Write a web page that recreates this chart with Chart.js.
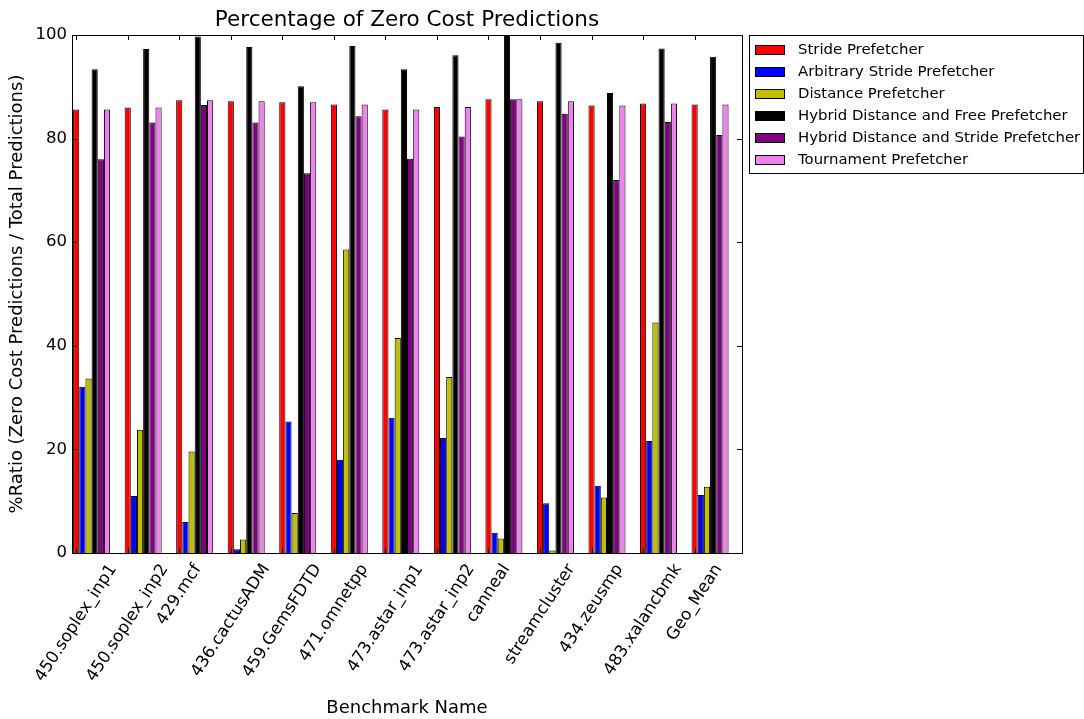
<!DOCTYPE html>
<html>
<head>
<meta charset="utf-8">
<title>Percentage of Zero Cost Predictions</title>
<script src="https://cdn.jsdelivr.net/npm/chart.js@4.4.1/dist/chart.umd.min.js"></script>
<style>
  html, body { margin: 0; padding: 0; background: #ffffff; }
  #wrap { width: 1084px; height: 719px; }
</style>
</head>
<body>
<div id="wrap"><canvas id="chart" width="1084" height="719"></canvas></div>
<script>
// Benchmarks on the x axis
const benchmarks = [
  '450.soplex_inp1', '450.soplex_inp2', '429.mcf', '436.cactusADM',
  '459.GemsFDTD', '471.omnetpp', '473.astar_inp1', '473.astar_inp2',
  'canneal', 'streamcluster', '434.zeusmp', '483.xalancbmk', 'Geo_Mean'
];

// Zero cost prediction ratio (%) per prefetcher
const stridePrefetcher        = [85.6, 86.0, 87.4, 87.2, 87.0, 86.6, 85.6, 86.1, 87.6, 87.2, 86.4, 86.8, 86.6];
const arbitraryStride         = [32.1, 11.0, 6.0, 0.7, 25.4, 18.0, 26.1, 22.2, 3.9, 9.6, 13.0, 21.6, 11.2];
const distancePrefetcher      = [33.7, 23.8, 19.6, 2.6, 7.7, 58.6, 41.5, 34.0, 2.8, 0.5, 10.7, 44.5, 12.8];
const hybridDistanceFree      = [93.4, 97.3, 99.7, 97.7, 90.1, 97.9, 93.4, 96.1, 100.0, 98.5, 88.8, 97.4, 95.8];
const hybridDistanceStride    = [76.0, 83.1, 86.5, 83.1, 73.3, 84.3, 76.1, 80.4, 87.6, 84.8, 72.0, 83.2, 80.7];
const tournamentPrefetcher    = [85.6, 86.0, 87.4, 87.2, 87.0, 86.6, 85.6, 86.1, 87.6, 87.2, 86.4, 86.8, 86.6];

// Y axis ticks
const yTicks = [0, 20, 40, 60, 80, 100];

const FONT = 'DejaVu Sans';
Chart.defaults.font.family = FONT;
Chart.defaults.color = '#000000';

function barSet(label, data, color) {
  return {
    label: label,
    data: data,
    backgroundColor: color,
    borderColor: '#000000',
    borderWidth: 1,
    borderSkipped: 'start'
  };
}

// two empty trailing slots keep each group left-aligned in its category
function spacer() {
  return { label: '', data: [], backgroundColor: 'rgba(0,0,0,0)', borderWidth: 0, spacer: true };
}

const datasets = [
  barSet('Stride Prefetcher', stridePrefetcher, '#ff0000'),
  barSet('Arbitrary Stride Prefetcher', arbitraryStride, '#0000ff'),
  barSet('Distance Prefetcher', distancePrefetcher, '#bfbf00'),
  barSet('Hybrid Distance and Free Prefetcher', hybridDistanceFree, '#000000'),
  barSet('Hybrid Distance and Stride Prefetcher', hybridDistanceStride, '#800080'),
  barSet('Tournament Prefetcher', tournamentPrefetcher, '#ee82ee'),
  spacer(),
  spacer()
];

const TICK_LEN = 5;
const LABEL_ANGLE = 57 * Math.PI / 180;

// axes frame, inward ticks on all four sides, rotated category labels, framed legend
const framePlugin = {
  id: 'frame',
  afterDatasetsDraw(chart) {
    const { ctx, chartArea: a, scales } = chart;
    ctx.save();
    ctx.strokeStyle = '#000000';
    ctx.lineWidth = 1;
    ctx.beginPath();
    // y ticks (left and right)
    yTicks.forEach(v => {
      const y = Math.round(scales.y.getPixelForValue(v)) + 0.5;
      ctx.moveTo(a.left, y); ctx.lineTo(a.left + TICK_LEN, y);
      ctx.moveTo(a.right, y); ctx.lineTo(a.right - TICK_LEN, y);
    });
    // x ticks at the first bar of every group (top and bottom)
    const meta = chart.getDatasetMeta(0);
    meta.data.forEach(el => {
      const x = Math.round(el.x) + 0.5;
      ctx.moveTo(x, a.bottom); ctx.lineTo(x, a.bottom - TICK_LEN);
      ctx.moveTo(x, a.top); ctx.lineTo(x, a.top + TICK_LEN);
    });
    ctx.stroke();
    ctx.strokeRect(Math.round(a.left) + 0.5, Math.round(a.top) + 0.5,
                   Math.round(a.right - a.left), Math.round(a.bottom - a.top));
    ctx.restore();
  },
  afterDraw(chart) {
    const { ctx, chartArea: a } = chart;
    const meta = chart.getDatasetMeta(0);
    ctx.save();
    ctx.fillStyle = '#000000';

    // category labels, rotated and centred under each group's tick
    ctx.font = '16.7px "' + FONT + '"';
    ctx.textAlign = 'center';
    ctx.textBaseline = 'middle';
    const h = 18;
    chart.data.labels.forEach((lab, i) => {
      const el = meta.data[i];
      const w = ctx.measureText(lab).width;
      const boxH = w * Math.sin(LABEL_ANGLE) + h * Math.cos(LABEL_ANGLE);
      ctx.save();
      ctx.translate(el.x, a.bottom + 8 + boxH / 2);
      ctx.rotate(-LABEL_ANGLE);
      ctx.fillText(lab, 0, 0);
      ctx.restore();
    });

    // legend, outside the axes on the right
    const items = chart.data.datasets.filter(d => !d.spacer);
    const lx = a.right + 7;
    const ly = a.top;
    const rowH = 22;
    const lw = chart.width - 1 - lx;
    const lh = 14 + rowH * (items.length - 1) + 14;
    ctx.font = '14.9px "' + FONT + '"';
    ctx.textAlign = 'left';
    ctx.textBaseline = 'middle';
    ctx.lineWidth = 1;
    items.forEach((d, i) => {
      const cy = ly + 14.5 + rowH * i;
      const bx = lx + 6, by = Math.round(cy - 5);
      ctx.fillStyle = d.backgroundColor;
      ctx.fillRect(bx, by, 30, 10);
      ctx.strokeStyle = '#000000';
      ctx.strokeRect(bx + 0.5, by + 0.5, 29, 9);
      ctx.fillStyle = '#000000';
      ctx.fillText(d.label, lx + 49, cy + 0.5);
    });
    ctx.strokeStyle = '#000000';
    ctx.strokeRect(Math.round(lx) + 0.5, Math.round(ly) + 0.5, Math.round(lw), Math.round(lh));
    ctx.restore();
  }
};

new Chart(document.getElementById('chart'), {
  type: 'bar',
  data: { labels: benchmarks, datasets: datasets },
  options: {
    responsive: false,
    animation: false,
    devicePixelRatio: 1,
    layout: { padding: { left: 0, right: 342, top: 0, bottom: 0 } },
    datasets: {
      bar: { categoryPercentage: 0.958, barPercentage: 1.0 }
    },
    scales: {
      x: {
        type: 'category',
        offset: true,
        grid: { display: false, drawTicks: false },
        border: { display: false },
        ticks: { display: false },
        title: {
          display: true,
          text: 'Benchmark Name',
          font: { size: 18, family: FONT },
          color: '#000000',
          padding: { top: 0, bottom: 0 }
        },
        afterFit(scale) { scale.height = 166; }
      },
      y: {
        min: 0,
        max: 100,
        grid: { display: false, drawTicks: false },
        border: { display: false },
        ticks: {
          stepSize: 20,
          padding: 5,
          color: '#000000',
          font: { size: 16.5, family: FONT }
        },
        afterBuildTicks(scale) { scale.ticks = yTicks.map(v => ({ value: v })); },
        title: {
          display: true,
          text: '%Ratio (Zero Cost Predictions / Total Predictions)',
          font: { size: 18, family: FONT },
          color: '#000000',
          padding: { top: 7, bottom: 0 }
        },
        afterFit(scale) { scale.width = 72; }
      }
    },
    plugins: {
      title: {
        display: true,
        text: 'Percentage of Zero Cost Predictions',
        font: { size: 21.5, weight: 'normal', family: FONT },
        color: '#000000',
        fullSize: false,
        padding: { top: 8, bottom: 1.2 }
      },
      legend: { display: false },
      tooltip: { enabled: false }
    }
  },
  plugins: [framePlugin]
});
</script>
</body>
</html>
